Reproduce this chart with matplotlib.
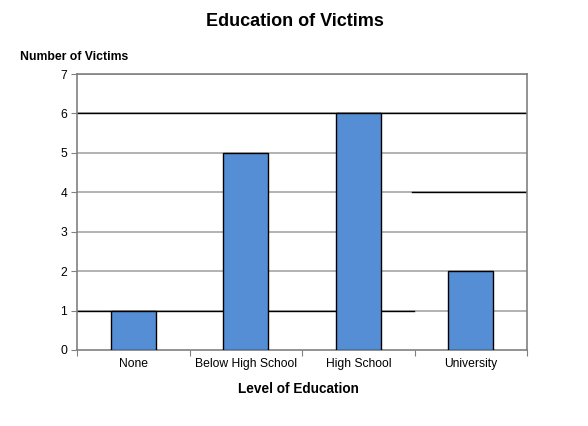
import matplotlib
matplotlib.use("Agg")
import matplotlib.pyplot as plt
import numpy as np

categories = ["None", "Below High School", "High School", "University"]
values = [1, 5, 6, 2]
y_ticks = [0, 1, 2, 3, 4, 5, 6, 7]

plt.rcParams['font.family'] = ['Liberation Sans', 'DejaVu Sans']

fig = plt.figure(figsize=(5.88, 4.26), dpi=100)
ax = fig.add_axes([77/588, 1-350/426, 450/588, 276/426])

x = np.arange(len(categories))
ax.bar(x, values, width=0.4, color='#558ED5', edgecolor='black', linewidth=1.0, zorder=3)

ax.set_xlim(-0.5, len(categories) - 0.5)
ax.set_ylim(0, 7)
ax.set_yticks(y_ticks)
ax.set_yticklabels([str(v) for v in y_ticks], fontsize=8.7)

# grid
for v in y_ticks[1:]:
    ax.axhline(v, color='#a6a6a6', linewidth=1.2, zorder=1)
ax.axhline(6, color='black', linewidth=1.0, zorder=2)
ax.axhline(1, xmin=0, xmax=(414-77)/450, color='black', linewidth=1.0, zorder=2)
ax.axhline(4, xmin=(412-77)/450, xmax=1, color='black', linewidth=1.0, zorder=2)

# x ticks at boundaries
ax.set_xticks(np.arange(-0.5, len(categories), 1.0), minor=False)
ax.set_xticklabels([])
ax.set_xticks(x, minor=True)
ax.set_xticklabels(categories, minor=True, fontsize=8.7)
ax.tick_params(axis='x', which='minor', length=0, pad=6)
ax.tick_params(axis='x', which='major', length=4, color='#808080', direction='out')
ax.tick_params(axis='y', length=4, color='#808080', direction='out', pad=3)

for s in ax.spines.values():
    s.set_color('#808080')
    s.set_linewidth(1.2)

fig.text(295/588, 1-22/426, "Education of Victims", ha='center', va='center',
         fontsize=13, fontweight='bold')
fig.text(20/588, 1-57/426, "Number of Victims", ha='left', va='center',
         fontsize=8.8, fontweight='bold')
fig.text(298/588, 1-389/426, "Level of Education", ha='center', va='center',
         fontsize=9.8, fontweight='bold')

fig.savefig("out.png", dpi=100)
